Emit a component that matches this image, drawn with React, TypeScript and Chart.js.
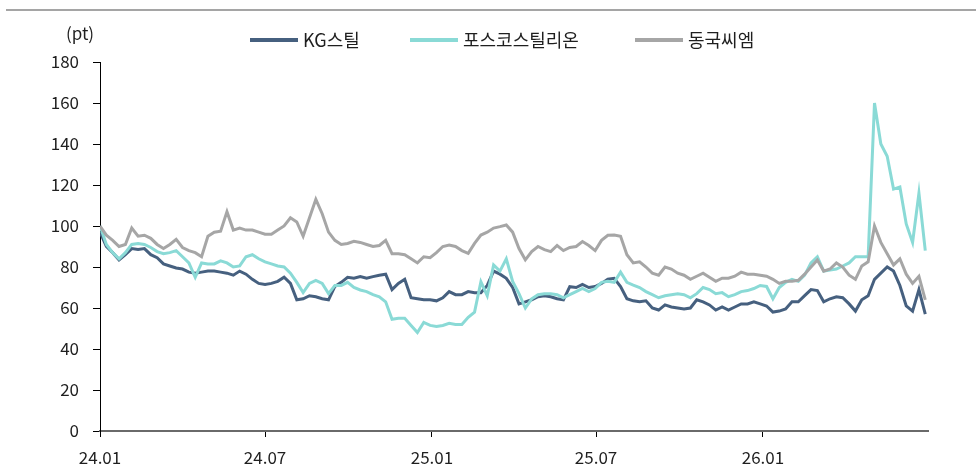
import React, { useEffect, useRef } from 'react';
import { Chart, registerables } from 'chart.js';

Chart.register(...registerables);

const SERIES_NAMES = ['KG스틸', '포스코스틸리온', '동국씨엠'];
const SERIES_COLORS = ['#46607F', '#8ADAD6', '#A6A6A6'];
const UNIT_LABEL = '(pt)';

// x: days since 2024-01-01, one observation per week
const DAY_STEP = 7;
const X_MAX = 913;
const TICK_DAYS = [0, 182, 366, 547, 731];
const TICK_LABELS = ['24.01', '24.07', '25.01', '25.07', '26.01'];
const Y_MIN = 0;
const Y_MAX = 180;
const Y_STEP = 20;

const KG_STEEL = [
  97, 90, 87, 83.5, 86, 89, 88.5, 89, 86, 84.5, 81.5, 80.5, 79.5, 79, 77.5, 77, 77.5, 78, 78, 77.5,
  77, 76, 78, 76.5, 74, 72, 71.5, 72, 73, 75, 72, 64, 64.5, 66, 65.5, 64.5, 64, 70.5, 72.5, 75,
  74.5, 75.3, 74.5, 75.3, 76, 76.5, 69, 72, 74, 65, 64.5, 64, 64, 63.5, 65, 68, 66.5, 66.5, 68, 67.5,
  67.5, 71, 78, 76.5, 74.5, 70, 62, 63, 64, 65.5, 66, 65.5, 64.5, 64, 70.4, 70, 71.5, 70, 70.5, 72,
  74, 74.5, 70.5, 64.5, 63.5, 63, 63.5, 60, 59, 61.5, 60.5, 60, 59.5, 60, 64, 63, 61.5, 59, 60.5, 59,
  60.5, 62, 62, 63, 62, 61, 58, 58.5, 59.5, 63, 63, 66, 69, 68.5, 63, 64.5, 65.5, 65, 62, 58.5,
  64, 66, 74, 77, 80, 78, 71, 61, 58.5, 69, 57,
];

const POSCO_STEELEON = [
  100, 91, 87, 84, 87, 91, 91.5, 91, 89.5, 87.5, 86.5, 87, 88, 85, 82, 75, 82, 81.5, 81.5, 83,
  82, 80, 80.5, 85, 86, 84, 82.5, 81.5, 80.5, 80, 77, 72.5, 67.5, 72, 73.5, 72, 67, 71, 71, 72.5,
  70, 68.8, 68, 66.5, 65.5, 63, 54.5, 55, 55, 51.5, 48, 53, 51.5, 51, 51.5, 52.5, 52, 52, 55.5, 58,
  72.8, 66, 81, 78, 84, 73, 67, 60, 64.5, 66.5, 67, 67, 66.5, 65, 66.5, 68, 69.5, 68, 69.5, 72.5,
  73, 72.5, 77.5, 72.5, 71.2, 70, 68, 66.5, 65, 66, 66.5, 67, 66.5, 65, 67, 70, 69, 67, 67.5, 65.5,
  66.5, 68, 68.5, 69.5, 71, 70.5, 64.5, 70, 72.5, 74, 73, 76, 82, 85, 78, 78.5, 79, 80.5, 82, 85,
  85, 85, 160, 140, 134, 118, 119, 101, 92, 116, 88,
];

const DONGKUK_CM = [
  100, 95.5, 93, 90, 91, 99, 95, 95.5, 94, 91, 89, 91, 93.5, 89.5, 88, 87, 85, 95, 97, 97.5,
  107, 98, 99, 98, 98, 97, 96, 96, 98, 100, 104, 102, 95, 104, 113, 106, 97, 93, 91, 91.5,
  92.5, 92, 91, 90, 90.5, 93, 86.5, 86.5, 86, 84, 82, 85, 84.5, 87, 90, 90.7, 90, 88, 86.7, 91.5,
  95.6, 97, 99, 99.7, 100.5, 97, 89, 83.5, 87.5, 90, 88.5, 87.5, 90.5, 88, 89.5, 90, 92.4, 90.5, 88, 93,
  95.5, 95.6, 95, 86, 82, 82.5, 80, 77, 76, 80, 79, 77, 76, 74, 75.5, 77, 75, 73, 74.5, 74.5,
  75.5, 77.5, 76.5, 76.5, 76, 75.5, 74, 72, 73, 73, 73.5, 76.5, 80, 83.4, 78, 79, 82, 80, 76, 74,
  80.5, 82.5, 100, 92, 86.5, 81, 84, 76.5, 72, 75.5, 64,
];

const SERIES_VALUES = [KG_STEEL, POSCO_STEELEON, DONGKUK_CM];
const DRAW_ORDER = [3, 2, 1];
const LEGEND_X = [250, 410, 635];

const FONT = "'Noto Sans CJK KR', 'Noto Sans', sans-serif";
const TEXT_COLOR = '#1f1f1f';

const decorPlugin = {
  id: 'decor',
  beforeDraw(chart: any) {
    const ctx = chart.ctx;
    ctx.save();
    ctx.fillStyle = '#A5A5A5';
    ctx.fillRect(6, 9, chart.width - 6, 2);
    ctx.restore();
  },
  afterDraw(chart: any) {
    const ctx = chart.ctx;
    ctx.save();
    ctx.font = `17px ${FONT}`;
    ctx.fillStyle = TEXT_COLOR;
    ctx.textBaseline = 'middle';
    ctx.textAlign = 'left';
    ctx.fillText(UNIT_LABEL, 66, 34);

    ctx.font = `18px ${FONT}`;
    const y = 40;
    SERIES_NAMES.forEach((name, i) => {
      const x = LEGEND_X[i];
      ctx.strokeStyle = SERIES_COLORS[i];
      ctx.lineWidth = 4;
      ctx.beginPath();
      ctx.moveTo(x, y);
      ctx.lineTo(x + 48, y);
      ctx.stroke();
      ctx.fillStyle = TEXT_COLOR;
      ctx.fillText(name, x + 53, y);
    });
    ctx.restore();
  },
};

export default function App() {
  const canvasRef = useRef<HTMLCanvasElement | null>(null);

  useEffect(() => {
    if (!canvasRef.current) return;
    const datasets = SERIES_NAMES.map((name, i) => ({
      label: name,
      data: SERIES_VALUES[i].map((v, k) => ({ x: k * DAY_STEP, y: v })),
      borderColor: SERIES_COLORS[i],
      backgroundColor: SERIES_COLORS[i],
      borderWidth: 3,
      pointRadius: 0,
      tension: 0,
      fill: false,
      order: DRAW_ORDER[i],
    }));

    const chart = new Chart(canvasRef.current, {
      type: 'line',
      data: { datasets },
      plugins: [decorPlugin],
      options: {
        animation: false,
        responsive: false,
        devicePixelRatio: 1,
        layout: { padding: { left: 0, right: 48, top: 62, bottom: 0 } },
        plugins: { legend: { display: false }, tooltip: { enabled: false } },
        scales: {
          x: {
            type: 'linear',
            min: 0,
            max: X_MAX,
            afterBuildTicks: (scale: any) => {
              scale.ticks = TICK_DAYS.map((v) => ({ value: v }));
            },
            afterFit: (scale: any) => {
              scale.height = 42;
            },
            ticks: {
              autoSkip: false,
              maxRotation: 0,
              padding: 10,
              color: TEXT_COLOR,
              font: { family: FONT, size: 17 },
              callback: (v: any) => {
                const idx = TICK_DAYS.indexOf(Number(v));
                return idx >= 0 ? TICK_LABELS[idx] : '';
              },
            },
            grid: { drawOnChartArea: false, drawTicks: true, tickLength: 6, color: '#000', lineWidth: 1 },
            border: { display: true, color: '#6a6a6a', width: 2 },
          },
          y: {
            min: Y_MIN,
            max: Y_MAX,
            afterFit: (scale: any) => {
              scale.width = 100;
            },
            ticks: {
              stepSize: Y_STEP,
              padding: 14,
              color: TEXT_COLOR,
              font: { family: FONT, size: 17 },
            },
            grid: { drawOnChartArea: false, drawTicks: true, tickLength: 7, color: '#000', lineWidth: 1 },
            border: { display: true, color: '#000', width: 1 },
          },
        },
      },
    });
    return () => chart.destroy();
  }, []);

  return (
    <div style={{ position: 'fixed', left: 0, top: 0, width: 976, height: 473, background: '#fff' }}>
      <canvas ref={canvasRef} width={976} height={473} />
    </div>
  );
}
